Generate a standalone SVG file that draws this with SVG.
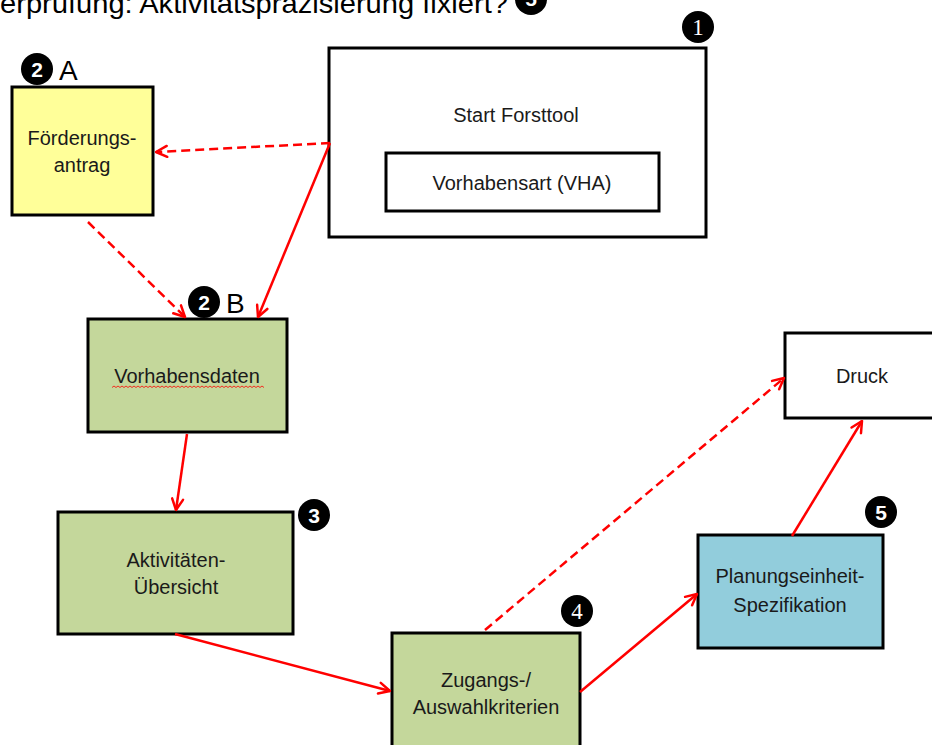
<svg xmlns="http://www.w3.org/2000/svg" width="932" height="745" viewBox="0 0 932 745">
<defs>
<marker id="ah" viewBox="0 0 14 14" refX="12.5" refY="7" markerWidth="14" markerHeight="14" markerUnits="userSpaceOnUse" orient="auto">
<path d="M1.5,1.5 L12.5,7 L1.5,12.5" fill="none" stroke="#FF0000" stroke-width="2.5" stroke-linecap="round" stroke-linejoin="round"/>
</marker>
<style>
.box{stroke:#000;stroke-width:3}
.lbl{font-family:"Liberation Sans",Arial,sans-serif;font-size:20px;fill:#1a1a1a;text-anchor:middle}
.bdg{fill:#000}
.bt{font-family:"Liberation Sans",Arial,sans-serif;font-weight:bold;font-size:21px;fill:#fff;text-anchor:middle}
.bts{font-family:"Liberation Serif","Times New Roman",serif;font-size:23px;fill:#fff;text-anchor:middle}
.big{font-family:"Liberation Sans",Arial,sans-serif;font-size:28px;fill:#000}
.e{fill:none;stroke:#FF0000;stroke-width:2.5;marker-end:url(#ah)}
.d{stroke-dasharray:9 5}
</style>
</defs>
<rect width="932" height="745" fill="#fff"/>

<g id="title">
<text class="big" x="0" y="13" textLength="508" lengthAdjust="spacingAndGlyphs">erprüfung: Aktivitätspräzisierung fixiert?</text>
<circle class="bdg" cx="531" cy="-1" r="16"/>
<text class="bt" x="531" y="6">5</text>
</g>

<g id="start">
<rect class="box" x="329" y="48" width="377" height="189" fill="#fff"/>
<text class="lbl" x="516" y="122">Start Forsttool</text>
<rect class="box" x="386" y="153" width="273" height="58" fill="#fff"/>
<text class="lbl" x="522" y="190">Vorhabensart (VHA)</text>
<circle class="bdg" cx="698" cy="27" r="16"/>
<text class="bts" x="698" y="35">1</text>
</g>

<g id="foerderung">
<rect class="box" x="12" y="87" width="141" height="128" fill="#FFFF99"/>
<text class="lbl" x="82" y="145">Förderungs-</text>
<text class="lbl" x="82" y="172">antrag</text>
<circle class="bdg" cx="37" cy="69" r="16"/>
<text class="bt" x="37" y="77">2</text>
<text class="big" x="59" y="80">A</text>
</g>

<g id="vorhabensdaten">
<rect class="box" x="88" y="319" width="199" height="113" fill="#C4D79B"/>
<text class="lbl" x="187" y="383">Vorhabensdaten</text>
<path d="M112,387.5 l2,-1.5 l2,1.5 l2,-1.5 l2,1.5 l2,-1.5 l2,1.5 l2,-1.5 l2,1.5 l2,-1.5 l2,1.5 l2,-1.5 l2,1.5 l2,-1.5 l2,1.5 l2,-1.5 l2,1.5 l2,-1.5 l2,1.5 l2,-1.5 l2,1.5 l2,-1.5 l2,1.5 l2,-1.5 l2,1.5 l2,-1.5 l2,1.5 l2,-1.5 l2,1.5 l2,-1.5 l2,1.5 l2,-1.5 l2,1.5 l2,-1.5 l2,1.5 l2,-1.5 l2,1.5 l2,-1.5 l2,1.5 l2,-1.5 l2,1.5 l2,-1.5 l2,1.5 l2,-1.5 l2,1.5 l2,-1.5 l2,1.5 l2,-1.5 l2,1.5 l2,-1.5 l2,1.5 l2,-1.5 l2,1.5 l2,-1.5 l2,1.5 l2,-1.5 l2,1.5 l2,-1.5 l2,1.5 l2,-1.5 l2,1.5 l2,-1.5 l2,1.5 l2,-1.5 l2,1.5 l2,-1.5 l2,1.5 l2,-1.5 l2,1.5 l2,-1.5 l2,1.5 l2,-1.5 l2,1.5 l2,-1.5 l2,1.5 l2,-1.5 l2,1.5" fill="none" stroke="#FF0000" stroke-width="0.8"/>
<circle class="bdg" cx="204" cy="302" r="16"/>
<text class="bt" x="204" y="310">2</text>
<text class="big" x="226" y="313">B</text>
</g>

<g id="aktivitaeten">
<rect class="box" x="58" y="512" width="235" height="122" fill="#C4D79B"/>
<text class="lbl" x="176" y="567">Aktivitäten-</text>
<text class="lbl" x="176" y="594">Übersicht</text>
<circle class="bdg" cx="314" cy="515" r="16"/>
<text class="bt" x="314" y="523">3</text>
</g>

<g id="zugang">
<rect class="box" x="392" y="633" width="188" height="130" fill="#C4D79B"/>
<text class="lbl" x="486" y="687">Zugangs-/</text>
<text class="lbl" x="486" y="714">Auswahlkriterien</text>
<circle class="bdg" cx="577" cy="611" r="16"/>
<text class="bts" x="577" y="619">4</text>
</g>

<g id="planung">
<rect class="box" x="698" y="535" width="185" height="113" fill="#92CDDC"/>
<text class="lbl" x="790" y="583">Planungseinheit-</text>
<text class="lbl" x="790" y="612">Spezifikation</text>
<circle class="bdg" cx="881" cy="512" r="16"/>
<text class="bt" x="881" y="520">5</text>
</g>

<g id="druck">
<rect class="box" x="785" y="333" width="160" height="85" fill="#fff"/>
<text class="lbl" x="862" y="383">Druck</text>
</g>

<g id="connectors">
<path class="e d" d="M330,143 L156,152"/>
<path class="e" d="M330,143 L258,317"/>
<path class="e d" d="M88,222 L185,317"/>
<path class="e" d="M187,434 L176,510"/>
<path class="e" d="M175,634 L390,691"/>
<path class="e d" d="M485,630 L784,378"/>
<path class="e" d="M580,692 L697,594"/>
<path class="e" d="M792,536 L862,421"/>
</g>
</svg>
